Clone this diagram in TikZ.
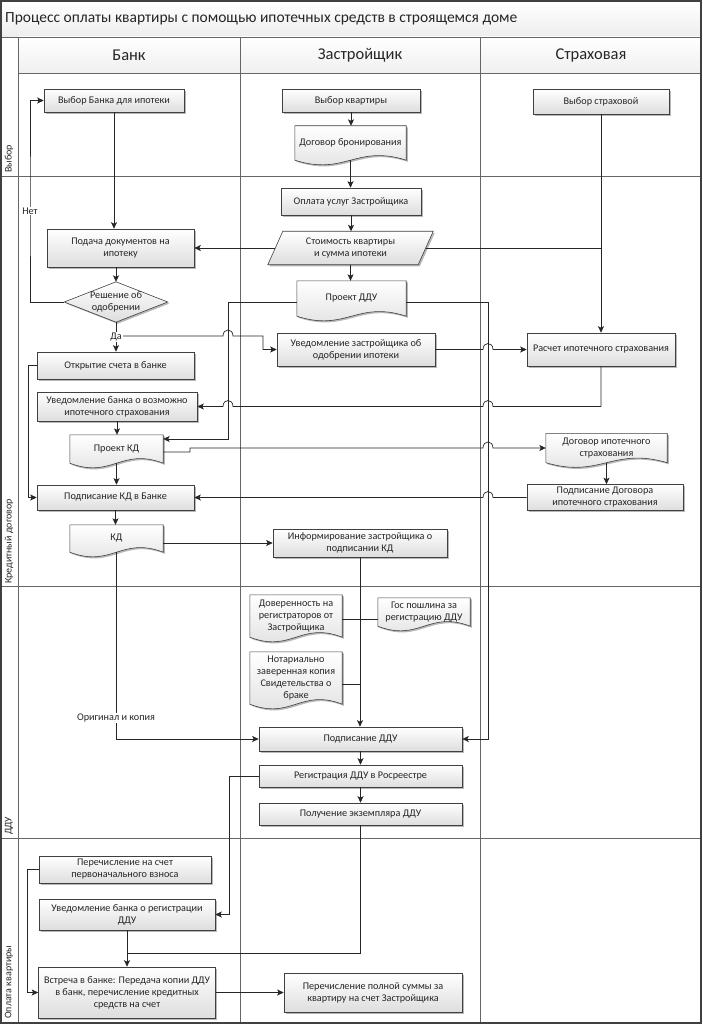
\documentclass[tikz,border=0pt]{standalone}
\usepackage{fontspec}
\setmainfont{Carlito}
\usetikzlibrary{arrows.meta,calc,shadows}
\pgfdeclarelayer{lanes}
\pgfdeclarelayer{shapes}
\pgfsetlayers{lanes,shapes,main}
\tikzset{
  base/.style={font=\fontsize{10.2}{12}\selectfont, text=black!85, align=center, inner sep=1pt},
  shd/.style={drop shadow={shadow xshift=1.6pt, shadow yshift=-1.6pt, opacity=0.28, fill=black}},
  proc/.style={base, rectangle, draw=black!75, line width=0.6pt, top color=white, bottom color=black!13, shd},
  txtbox/.style={base, rectangle, draw=none, fill=none},
  shp/.style={draw=black!75, line width=0.6pt, top color=white, bottom color=black!13, shd},
  conn/.style={draw=black!85, line width=0.7pt, -{Stealth[length=6.5pt,width=6pt,inset=1.5pt]}},
  plain/.style={draw=black!85, line width=0.7pt},
  lane/.style={draw=black!60, line width=0.9pt},
  lbl/.style={font=\fontsize{10.2}{12}\selectfont, text=black!85, fill=white, inner sep=1pt},
  lanelbl/.style={font=\fontsize{10}{12}\selectfont, text=black!85, inner sep=0pt},
  head/.style={font=\fontsize{16.5}{18}\selectfont, text=black!85},
}
\newcommand{\mkproc}[6]{\node[proc, minimum width=#4pt, minimum height=#5pt] (#1) at (#2,#3) {#6};}
\newcommand{\mkdoc}[6]{%
  \node[txtbox, minimum width=#4pt, minimum height=#5pt] (#1) at (#2,#3) {\begin{tabular}{@{}c@{}}#6\end{tabular}};
  \begin{pgfonlayer}{shapes}
  \path[shp] (#1.north west) -- (#1.north east) -- (#1.south east)
    .. controls ($(#1.south west)!0.55!(#1.south east)+(0,-16)$) and ($(#1.south west)!0.45!(#1.south east)+(0,16)$) .. (#1.south west) -- cycle;
  \end{pgfonlayer}}
\begin{document}
\begin{tikzpicture}[x=1pt,y=-1pt]
\useasboundingbox (0,0) rectangle (702,1024);
% ---------------- lanes
\begin{pgfonlayer}{lanes}
  \shade[top color=white,bottom color=black!7] (1,1) rectangle (701,37);
  \shade[top color=white,bottom color=black!6] (18,37) rectangle (701,73);
  \draw[lane] (1,37) -- (701,37);
  \draw[lane] (18,73) -- (701,73);
  \draw[lane] (18,37) -- (18,1023);
  \draw[lane] (240,37) -- (240,1023);
  \draw[lane] (480,37) -- (480,1023);
  \foreach \yy in {176,586,838} \draw[lane] (1,\yy) -- (701,\yy);
  \draw[black!75, line width=1.2pt] (1,1) rectangle (701,1023);
\end{pgfonlayer}
\node[font=\fontsize{15.5}{17}\selectfont, text=black!85, anchor=west, inner sep=0pt] (title) at (5,19) {Процесс оплаты квартиры с помощью ипотечных средств в строящемся доме};
\node[head] (hb) at (129,55) {Банк};
\node[head] (hz) at (360,55) {Застройщик};
\node[head] (hs) at (591,55) {Страховая};
\node[lanelbl, rotate=90, anchor=west] (l1) at (9,173) {Выбор};
\node[lanelbl, rotate=90, anchor=west] (l2) at (9,584) {Кредитный договор};
\node[lanelbl, rotate=90, anchor=west] (l3) at (9,835) {ДДУ};
\node[lanelbl, rotate=90, anchor=west] (l4) at (9,1019) {Оплата квартиры};
% ---------------- Bank
\mkproc{bvb}{114}{100.5}{140}{23}{Выбор Банка для ипотеки}
\mkproc{bpd}{120.5}{248}{147}{38}{Подача документов на\\ипотеку}
\node[txtbox, minimum width=103pt, minimum height=40pt] (dec) at (116,302) {Решение об\\одобрении};
\begin{pgfonlayer}{shapes}
  \path[shp] (dec.west) -- (dec.north) -- (dec.east) -- (dec.south) -- cycle;
\end{pgfonlayer}
\mkproc{bos}{115.5}{365.5}{157}{27}{Открытие счета в банке}
\mkproc{bus}{117}{406.5}{160}{29}{Уведомление банка о возможно\\ипотечного страхования}
\mkdoc{bpkd}{116.5}{449}{93}{28}{Проект КД}
\mkproc{bpodkd}{115.5}{497.5}{157}{25}{Подписание КД в Банке}
\mkdoc{bkd}{116.5}{538.5}{93}{27}{КД}
\mkproc{bper}{125}{869.5}{172}{27}{Перечисление на счет\\первоначального взноса}
\mkproc{burd}{127}{914.5}{176}{31}{Уведомление банка о регистрации\\ДДУ}
\mkproc{bvst}{127}{992.5}{177}{51}{Встреча в банке: Передача копии ДДУ\\в банк, перечисление кредитных\\средств на счет}
% ---------------- Developer
\mkproc{zvk}{351}{100.5}{138}{23}{Выбор квартиры}
\mkdoc{zdb}{350.5}{143}{111}{34}{Договор бронирования}
\mkproc{zopl}{351}{201.5}{140}{27}{Оплата услуг Застройщика}
\node[txtbox, minimum width=165pt, minimum height=33pt] (zcost) at (350.5,248) {Стоимость квартиры\\и сумма ипотеки};
\begin{pgfonlayer}{shapes}
  \path[shp] ($(zcost.north west)+(15,0)$) -- (zcost.north east) -- ($(zcost.south east)+(-15,0)$) -- (zcost.south west) -- cycle;
\end{pgfonlayer}
\mkdoc{zpddu}{351.5}{298.5}{109}{35}{Проект ДДУ}
\mkproc{zuz}{356}{349.5}{158}{33}{Уведомление застройщика об\\одобрении ипотеки}
\mkproc{zinf}{360}{543}{174}{28}{Информирование застройщика о\\подписании КД}
\mkdoc{zdov}{296}{616}{92}{42}{Доверенность на\\регистраторов от\\Застройщика}
\mkdoc{zgos}{424}{612}{92}{28}{Гос пошлина за\\регистрацию ДДУ}
\mkdoc{znot}{296}{678}{92}{52}{Нотариально\\заверенная копия\\Свидетельства о\\браке}
\mkproc{zpodd}{360.5}{739}{203}{24}{Подписание ДДУ}
\mkproc{zreg}{360.5}{776}{203}{22}{Регистрация ДДУ в Росреестре}
\mkproc{zpol}{360.5}{814}{203}{22}{Получение экземпляра ДДУ}
\mkproc{zper}{373}{992.5}{178}{39}{Перечисление полной суммы за\\квартиру на счет Застройщика}
% ---------------- Insurance
\mkproc{svs}{601}{101.5}{136}{25}{Выбор страховой}
\mkproc{srasch}{601}{349.5}{148}{33}{Расчет ипотечного страхования}
\mkdoc{sdog}{606.5}{448}{121}{29}{Договор ипотечного\\страхования}
\mkproc{spod}{605}{497.5}{156}{26}{Подписание Договора\\ипотечного страхования}
% ---------------- helper coordinates
\coordinate (netc) at (30,211);
\coordinate (da) at (116,336);
\coordinate (costL) at ($(zcost.west)+(7.5,0)$);
\coordinate (costR) at ($(zcost.east)+(-7.5,0)$);
\coordinate (pdduL) at ($(zpddu.west)+(0,3.5)$);
\coordinate (pdduR) at ($(zpddu.east)+(0,3.5)$);
\coordinate (pkdR) at ($(bpkd.east)+(0,-10)$);
\coordinate (pkdR2) at ($(bpkd.east)+(0,3)$);
\coordinate (kdR) at ($(bkd.east)+(0,4.5)$);
\coordinate (dovR) at ($(zdov.east)+(0,3)$);
\coordinate (gosL) at ($(zgos.west)+(0,7)$);
\coordinate (notR) at ($(znot.east)+(0,6)$);
\coordinate (jn) at (127,953);
% ---------------- connectors
\draw[conn] (bvb.south) -- (bvb.south |- bpd.north);
\draw[conn] (dec |- bpd.south) -- (dec.north);
\draw[conn] (dec.west) -| (netc) |- (bvb.west);
\draw[conn] (dec.south) -- (dec |- bos.north);
\draw[conn] (da) -- (223,336) .. controls (223,328) and (233,328) .. (233,336) -- (263,336) |- (zuz.west);
\draw[conn] (zvk.south) -- (zvk.south |- zdb.north);
\draw[conn] (zdb.south) -- (zdb.south |- zopl.north);
\draw[conn] (zopl.south) -- (zopl.south |- zcost.north);
\draw[conn] (zcost.south) -- (zcost.south |- zpddu.north);
\draw[conn] (costL) -- (bpd.east);
\draw[conn] (svs.south) -- (srasch.north);
\draw[plain] (costR) -- (costR -| svs);
\draw[conn] (pdduL) -- (228,302) |- (pkdR);
\draw[conn] (pdduR) -- (488,302) |- (zpodd.east);
\draw[conn] (zuz.east) -- (483,349.5) .. controls (483,341.5) and (493,341.5) .. (493,349.5) -- (srasch.west);
\draw[conn] (srasch.south) -- (601,406.5) -- (493,406.5) .. controls (493,398.5) and (483,398.5) .. (483,406.5) -- (233,406.5) .. controls (233,398.5) and (223,398.5) .. (223,406.5) -- (bus.east);
\draw[conn] (bus.south) -- (bus.south |- bpkd.north);
\draw[conn] (bpkd.south) -- (bpkd.south |- bpodkd.north);
\draw[conn] (pkdR2) -- (190,452) -- (190,448) -- (483,448) .. controls (483,440) and (493,440) .. (493,448) -- (sdog.west);
\draw[conn] (sdog.south) -- (sdog.south |- spod.north);
\draw[conn] (spod.west) -- (493,497.5) .. controls (493,489.5) and (483,489.5) .. (483,497.5) -- (bpodkd.east);
\draw[conn] (bos.west) -- ++(-8,0) |- (bpodkd.west);
\draw[conn] (bpodkd.south) -- (bpodkd.south |- bkd.north);
\draw[conn] (kdR) -- (kdR -| zinf.west);
\draw[conn] (bkd.south) |- (zpodd.west);
\draw[conn] (zinf.south) -- (zinf.south |- zpodd.north);
\draw[plain] (dovR) -- (dovR -| zinf.south);
\draw[plain] (gosL) -- (gosL -| zinf.south);
\draw[plain] (notR) -- (notR -| zinf.south);
\draw[conn] (zpodd.south) -- (zpodd.south |- zreg.north);
\draw[conn] (zreg.south) -- (zreg.south |- zpol.north);
\draw[conn] (zreg.west) -- ++(-29,0) |- (burd.east);
\draw[plain] (zpol.south) |- (jn);
\draw[plain] (burd.south) -- (jn);
\draw[conn] (jn) -- (bvst.north);
\draw[conn] (bper.west) -- ++(-11,0) |- (bvst.west);
\draw[conn] (bvst.east) -- (zper.west);
% ---------------- labels
\node[lbl] (net) at (netc) {Нет};
\node[lbl] (dalbl) at (116,337) {Да};
\node[lbl] (orig) at (116,718) {Оригинал и копия};
\end{tikzpicture}
\end{document}
